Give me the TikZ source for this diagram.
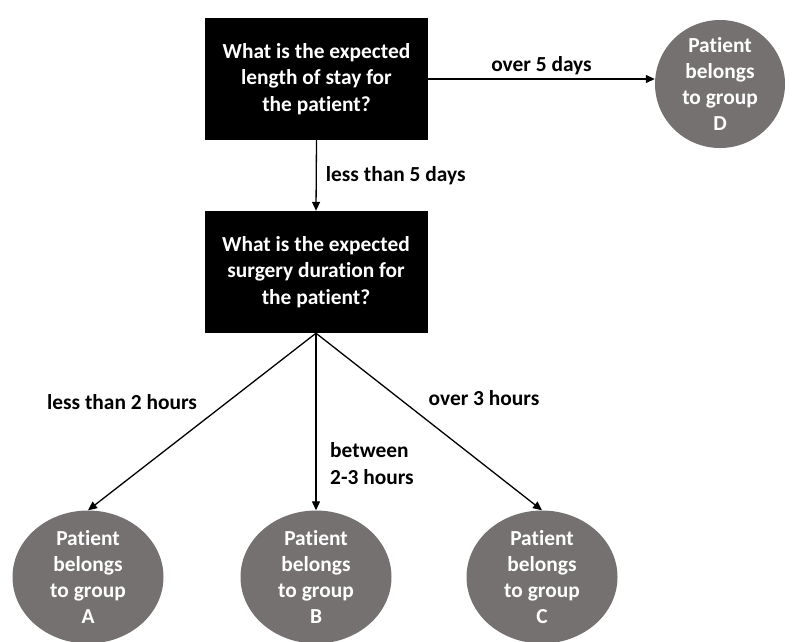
\documentclass[tikz,border=0pt]{standalone}
\usepackage{fontspec}
\setmainfont{Carlito}[Ligatures={NoCommon}]
\definecolor{grpgray}{HTML}{767171}
\usepackage{tikz}
\usetikzlibrary{arrows.meta, positioning, shapes.geometric}
\usepackage{xcolor}

\begin{document}
\begin{tikzpicture}[x=1pt, y=-1pt,
    question/.style={fill=black, text=white, minimum width=223pt, minimum height=122pt,
      align=center, font=\bfseries\fontsize{21.4}{26.5}\selectfont},
    group/.style={ellipse, fill=grpgray, inner sep=0pt},
    grptext/.style={text=white, align=center, inner sep=0pt,
      font=\bfseries\fontsize{21.4}{26}\selectfont},
    lbl/.style={inner sep=0pt, font=\bfseries\fontsize{21.4}{27}\selectfont},
    link/.style={line width=1.3pt, -{Triangle[length=9pt,width=8pt]}}]
    \useasboundingbox (0,0) rectangle (795,641);
    % questions
    \node[question] (length) at (316.5,79) {What is the expected\\length of stay for\\the patient?};
    \node[question] (surgery) at (316,272) {What is the expected\\surgery duration for\\the patient?};
    % groups
    \node[group, minimum width=130pt, minimum height=128pt,
      label={[grptext]center:{Patient\\belongs\\to group\\D}}] (grpD) at (720,84) {};
    \foreach \x/\g in {88/A, 316/B, 542/C}
      \node[group, minimum width=151pt, minimum height=133pt,
        label={[grptext]center:{Patient\\belongs\\to group\\\g}}] (grp\g) at (\x,577) {};
    % connectors
    \draw[link] (length.east) -- node[lbl, above=3pt] (over5) {over 5 days} (length.east -| grpD.west);
    \draw[link] (length.south) -- node[lbl, right=9pt] (less5) {less than 5 days} (surgery.north);
    \foreach \g in {A,B,C}
      \draw[link] (surgery.south) -- (grp\g.north);
    \node[lbl] (less2) at (122,402) {less than 2 hours};
    \node[lbl, align=left, anchor=west] (btw23) at (330,464) {between\\2-3 hours};
    \node[lbl] (over3) at (484,398) {over 3 hours};
  \end{tikzpicture}
\end{document}
